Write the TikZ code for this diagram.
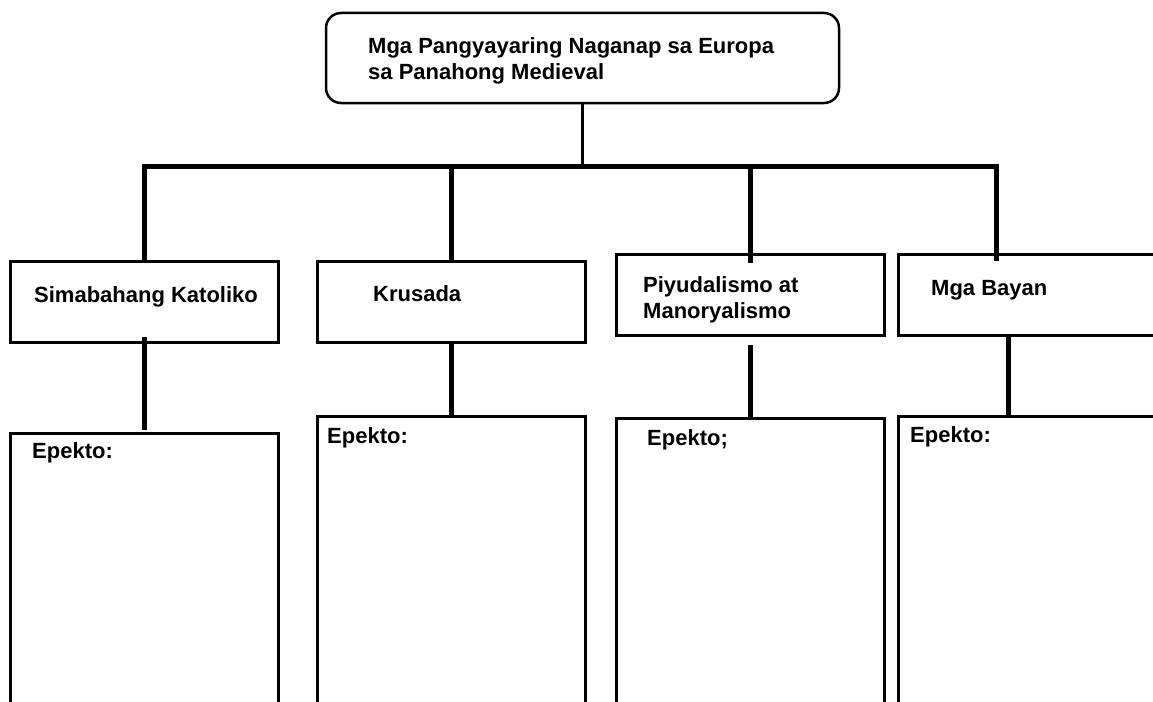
\documentclass[tikz,border=0pt]{standalone}
\usepackage{fontspec}
\setmainfont{Liberation Sans}
\usetikzlibrary{positioning}

\begin{document}
\begin{tikzpicture}[x=1pt, y=-1pt,
        topbox/.style={draw, line width=2.5pt, rounded corners=15pt, inner sep=0pt, outer sep=0pt,
                       minimum width=513pt, minimum height=90pt},
        catbox/.style={draw, line width=3pt, inner sep=0pt, outer sep=0pt,
                       minimum width=268pt, minimum height=81pt},
        effbox/.style={catbox, minimum height=300pt},
        lbl/.style={inner sep=0pt, anchor=base west, align=left,
                    font=\bfseries\fontsize{22}{26}\selectfont},
        stem/.style={line width=3pt},
        link/.style={line width=5pt},
        node distance=40pt]
      \useasboundingbox (0,0) rectangle (1153,701);
      \clip (0,0) rectangle (1153,701);
      % boxes
      \node[topbox, anchor=north west] (top) at (326,13) {};
      \node[catbox, anchor=north west] (simbahan) at (10,261) {};
      \node[catbox, right=39pt of simbahan] (krusada) {};
      \node[catbox, right=31pt of krusada, yshift=7pt] (piyudal) {};
      \node[catbox, minimum width=290pt, right=14pt of piyudal] (bayan) {};
      \node[effbox, below=91pt of simbahan] (epekto1) {};
      \node[effbox, below=74pt of krusada] (epekto2) {};
      \node[effbox, below=83pt of piyudal] (epekto3) {};
      \node[effbox, minimum width=290pt, below=81pt of bayan] (epekto4) {};
      % texts
      \node[lbl, anchor=north west] (toptext) at ([shift={(42,24)}]top.north west)
        {Mga Pangyayaring Naganap sa Europa\\sa Panahong Medieval};
      \node[lbl] (simbahantext) at ([shift={(24,41)}]simbahan.north west) {Simabahang Katoliko};
      \node[lbl] (krusadatext) at ([shift={(56,40)}]krusada.north west) {Krusada};
      \node[lbl, anchor=north west] (piyudaltext) at ([shift={(27,22)}]piyudal.north west)
        {Piyudalismo at\\Manoryalismo};
      \node[lbl] (bayantext) at ([shift={(33,41)}]bayan.north west) {Mga Bayan};
      \node[lbl] (epekto1text) at ([shift={(22,25)}]epekto1.north west) {Epekto:};
      \node[lbl] (epekto2text) at ([shift={(10,27)}]epekto2.north west) {Epekto:};
      \node[lbl] (epekto3text) at ([shift={(31,27)}]epekto3.north west) {Epekto;};
      \node[lbl] (epekto4text) at ([shift={(12,26)}]epekto4.north west) {Epekto:};
      % connectors
      \coordinate (bar) at (583,166);
      \coordinate (j4) at ([xshift=98pt]bayan.north west);
      \coordinate (k4) at ([xshift=110pt]bayan.south west);
      \draw[stem] (top.south) -- (top.south |- bar);
      \draw[link, shorten >=-7pt] (simbahan.north) |- (j4 |- bar) -- (j4);
      \draw[link] (krusada.north |- bar) -- (krusada.north);
      \draw[link, shorten >=-9pt] (piyudal.north |- bar) -- (piyudal.north);
      \draw[link, shorten <=-5pt, shorten >=3pt] (simbahan.south) -- (epekto1.north);
      \draw[link] (krusada.south) -- (epekto2.north);
      \draw[link, shorten <=10pt] (piyudal.south) -- (epekto3.north);
      \draw[link] (k4) -- (k4 |- epekto4.north);
    \end{tikzpicture}
\end{document}
